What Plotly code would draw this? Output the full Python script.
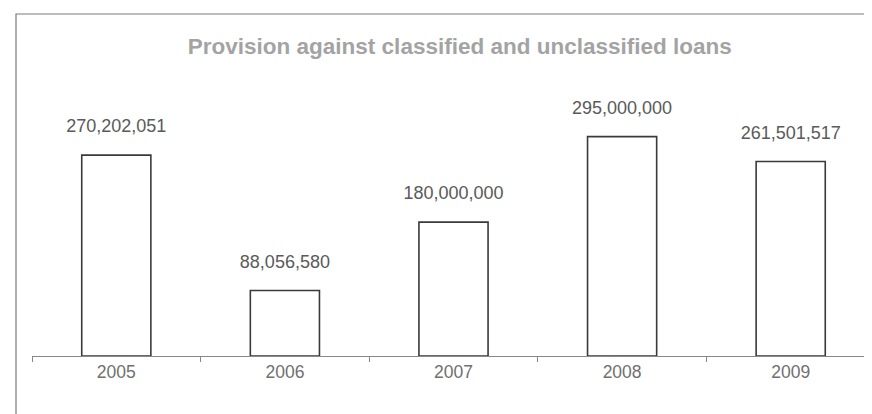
import plotly.graph_objects as go

years = ["2005", "2006", "2007", "2008", "2009"]
provision = [270202051, 88056580, 180000000, 295000000, 261501517]
value_labels = [f"{v:,}" for v in provision]
title_text = "Provision against classified and unclassified loans"

W, H = 872, 414
L, R, T, B = 24, 5, 90, 66
pw, ph = W - L - R, H - T - B

fig = go.Figure()
fig.add_trace(go.Bar(
    x=years, y=provision,
    marker=dict(color="white", line=dict(color="#3a3a3a", width=1.6)),
    hoverinfo="x+y",
))
fig.add_trace(go.Scatter(
    x=years, y=provision, mode="markers+text", text=value_labels,
    textposition="top center",
    marker=dict(size=28, opacity=0),
    textfont=dict(family="Liberation Sans, Arial", size=18, color="#5a5a5a"),
    hoverinfo="skip", cliponaxis=False,
))

fig.update_layout(
    width=W, height=H,
    margin=dict(l=L, r=R, t=T, b=B),
    paper_bgcolor="white", plot_bgcolor="white",
    bargap=0.59,
    showlegend=False,
    title=dict(text="<b>" + title_text + "</b>", x=442.5 / W, xanchor="center",
               y=1 - 38 / H, yanchor="middle", xref="paper",
               font=dict(family="Liberation Sans, Arial", size=22.5, color="#a3a3a3")),
    xaxis=dict(type="category", categoryorder="array", categoryarray=years,
               range=[-0.5, len(years) - 0.5],
               tickson="boundaries", ticks="outside", ticklen=5, tickangle=0,
               tickcolor="#888888", showline=True, linecolor="#888888", linewidth=1,
               tickfont=dict(family="Liberation Sans, Arial", size=17.5, color="#707070"),
               showgrid=False, zeroline=False),
    yaxis=dict(range=[0, 347e6], visible=False, showgrid=False, zeroline=False),
    shapes=[
        dict(type="rect", xref="paper", yref="paper",
             x0=(8 - L) / pw, x1=(869 - L) / pw,
             y0=(H - B - 410) / ph, y1=(H - B - 6) / ph,
             line=dict(color="#7a7a7a", width=1.2), fillcolor="rgba(0,0,0,0)", layer="below"),
    ],
)

fig.write_html("out.html")
